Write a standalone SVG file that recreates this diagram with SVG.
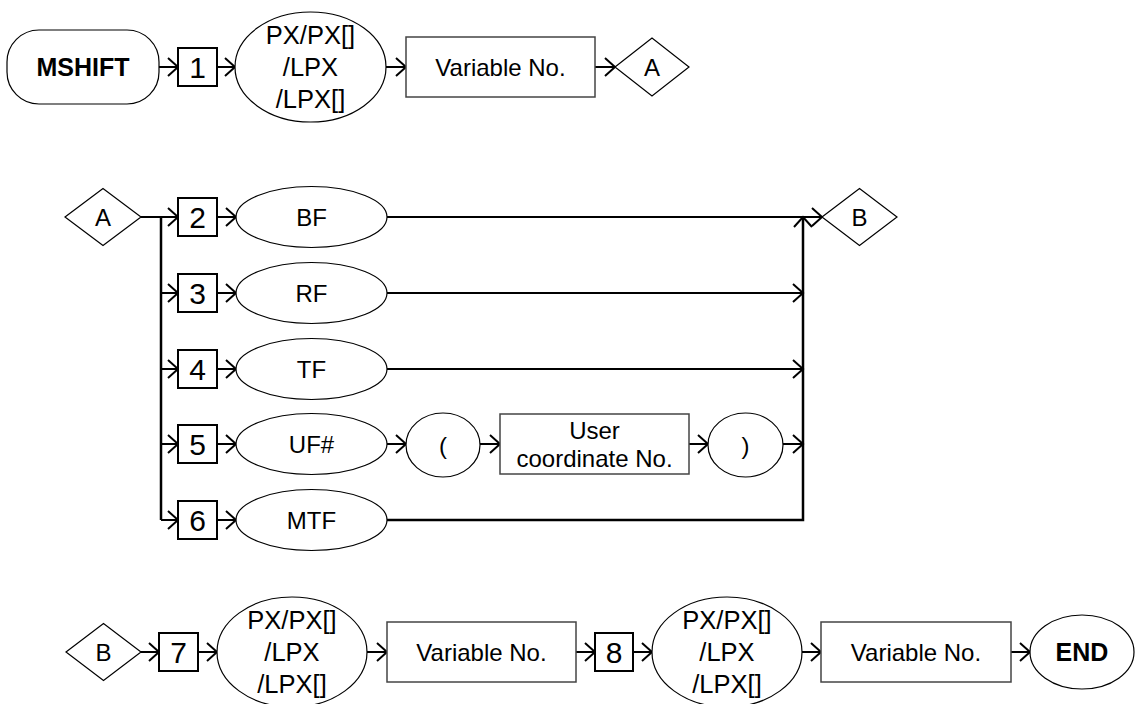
<svg xmlns="http://www.w3.org/2000/svg" width="1136" height="704" viewBox="0 0 1136 704">
<defs>
<style>
text{font-family:"Liberation Sans",Arial,sans-serif;fill:#000;text-anchor:middle;dominant-baseline:central;font-size:24px}
.b{font-weight:bold;font-size:25px}
.d{font-size:30px}
.p{font-size:25.5px}
.sh{fill:#fff;stroke:#000;stroke-width:1.2}
.rc{fill:#fff;stroke:#444;stroke-width:1.5}
.bx{fill:#fff;stroke:#000;stroke-width:2}
.c{fill:none;stroke:#000;stroke-width:2;marker-end:url(#ah)}
.t{fill:none;stroke:#000;stroke-width:2.5}
</style>
<marker id="ah" viewBox="-12 -11 14 22" refX="0" refY="0" markerWidth="14" markerHeight="22" markerUnits="userSpaceOnUse" orient="auto">
<path d="M-10,-9 L0,0 L-10,9" fill="none" stroke="#000" stroke-width="2"/>
</marker>
</defs>

<g id="connectors">
<path class="c" d="M159,67 H178"/>
<path class="c" d="M217,67 H235"/>
<path class="c" d="M386,67 H406"/>
<path class="c" d="M595,67 H615"/>
<path class="t" d="M161,217 V520"/>
<path class="c" d="M141,217 H178"/>
<path class="c" d="M161,293 H178"/>
<path class="c" d="M161,369 H178"/>
<path class="c" d="M161,444 H178"/>
<path class="c" d="M161,520 H178"/>
<path class="c" d="M217,217 H236"/>
<path class="c" d="M217,293 H236"/>
<path class="c" d="M217,369 H236"/>
<path class="c" d="M217,444 H236"/>
<path class="c" d="M217,520 H236"/>
<path class="c" d="M387,217 H822"/>
<path class="c" d="M387,293 H803"/>
<path class="c" d="M387,369 H803"/>
<path class="c" d="M387,444 H406"/>
<path class="c" d="M480,444 H500"/>
<path class="c" d="M689,444 H708"/>
<path class="c" d="M783,444 H803"/>
<path class="c" style="stroke-width:2.5" d="M387,520 H803 V217"/>
<path class="c" d="M141,652 H159"/>
<path class="c" d="M198,652 H217"/>
<path class="c" d="M367,652 H387"/>
<path class="c" d="M576,652 H595"/>
<path class="c" d="M633,652 H652"/>
<path class="c" d="M802,652 H821"/>
<path class="c" d="M1011,652 H1030"/>
</g>

<g id="n_mshift"><rect class="sh" x="7" y="30" width="152" height="74" rx="32" ry="32"/><text class="b" x="83" y="67">MSHIFT</text></g>
<g id="n_1"><rect class="bx" x="178" y="48" width="39" height="38"/><text class="d" x="197.5" y="67">1</text></g>
<g id="n_px1"><ellipse class="sh" cx="310.5" cy="67" rx="75.5" ry="55"/><text class="p" x="310.5" y="35">PX/PX[]</text><text class="p" x="310.5" y="67">/LPX</text><text class="p" x="310.5" y="99">/LPX[]</text></g>
<g id="n_var1"><rect class="rc" x="406" y="37" width="189" height="60"/><text x="500.5" y="67">Variable No.</text></g>
<g id="n_A1"><polygon class="sh" points="615,67 652,38 689,67 652,96"/><text x="652" y="67">A</text></g>

<g id="n_A2"><polygon class="sh" points="65,217 103,188.5 141,217 103,245.5"/><text x="103" y="217">A</text></g>
<g id="n_2"><rect class="bx" x="178" y="198" width="39" height="38"/><text class="d" x="197.5" y="217">2</text></g>
<g id="n_3"><rect class="bx" x="178" y="274" width="39" height="38"/><text class="d" x="197.5" y="293">3</text></g>
<g id="n_4"><rect class="bx" x="178" y="350" width="39" height="38"/><text class="d" x="197.5" y="369">4</text></g>
<g id="n_5"><rect class="bx" x="178" y="425" width="39" height="38"/><text class="d" x="197.5" y="444">5</text></g>
<g id="n_6"><rect class="bx" x="178" y="501" width="39" height="38"/><text class="d" x="197.5" y="520">6</text></g>
<g id="n_bf"><ellipse class="sh" cx="311.5" cy="217" rx="75.5" ry="30.5"/><text x="311.5" y="217">BF</text></g>
<g id="n_rf"><ellipse class="sh" cx="311.5" cy="293" rx="75.5" ry="30.5"/><text x="311.5" y="293">RF</text></g>
<g id="n_tf"><ellipse class="sh" cx="311.5" cy="369" rx="75.5" ry="30.5"/><text x="311.5" y="369">TF</text></g>
<g id="n_uf"><ellipse class="sh" cx="311.5" cy="444" rx="75.5" ry="30.5"/><text x="311.5" y="444">UF#</text></g>
<g id="n_mtf"><ellipse class="sh" cx="311.5" cy="520" rx="75.5" ry="30.5"/><text x="311.5" y="520">MTF</text></g>
<g id="n_lp"><ellipse class="sh" cx="443" cy="445" rx="37" ry="32"/><text x="443" y="445">(</text></g>
<g id="n_ucn"><rect class="rc" x="500" y="414" width="189" height="60"/><text x="594.5" y="430">User</text><text x="594.5" y="458">coordinate No.</text></g>
<g id="n_rp"><ellipse class="sh" cx="745.5" cy="445" rx="37.5" ry="32"/><text x="745.5" y="445">)</text></g>
<g id="n_B1"><polygon class="sh" points="822,217 859.5,188.5 897,217 859.5,245.5"/><text x="859.5" y="217">B</text></g>

<g id="n_B2"><polygon class="sh" points="66,652 103.5,623.5 141,652 103.5,680.5"/><text x="103.5" y="652">B</text></g>
<g id="n_7"><rect class="bx" x="159" y="633" width="39" height="38"/><text class="d" x="178.5" y="652">7</text></g>
<g id="n_px7"><ellipse class="sh" cx="292" cy="652" rx="75" ry="55"/><text class="p" x="292" y="620">PX/PX[]</text><text class="p" x="292" y="652">/LPX</text><text class="p" x="292" y="684">/LPX[]</text></g>
<g id="n_var7"><rect class="rc" x="387" y="622" width="189" height="60"/><text x="481.5" y="652">Variable No.</text></g>
<g id="n_8"><rect class="bx" x="595" y="633" width="38" height="38"/><text class="d" x="614" y="652">8</text></g>
<g id="n_px8"><ellipse class="sh" cx="727" cy="652" rx="75" ry="55"/><text class="p" x="727" y="620">PX/PX[]</text><text class="p" x="727" y="652">/LPX</text><text class="p" x="727" y="684">/LPX[]</text></g>
<g id="n_var8"><rect class="rc" x="821" y="622" width="190" height="60"/><text x="916" y="652">Variable No.</text></g>
<g id="n_end"><ellipse class="sh" cx="1082" cy="652" rx="52" ry="37"/><text class="b" x="1082" y="652">END</text></g>
</svg>
